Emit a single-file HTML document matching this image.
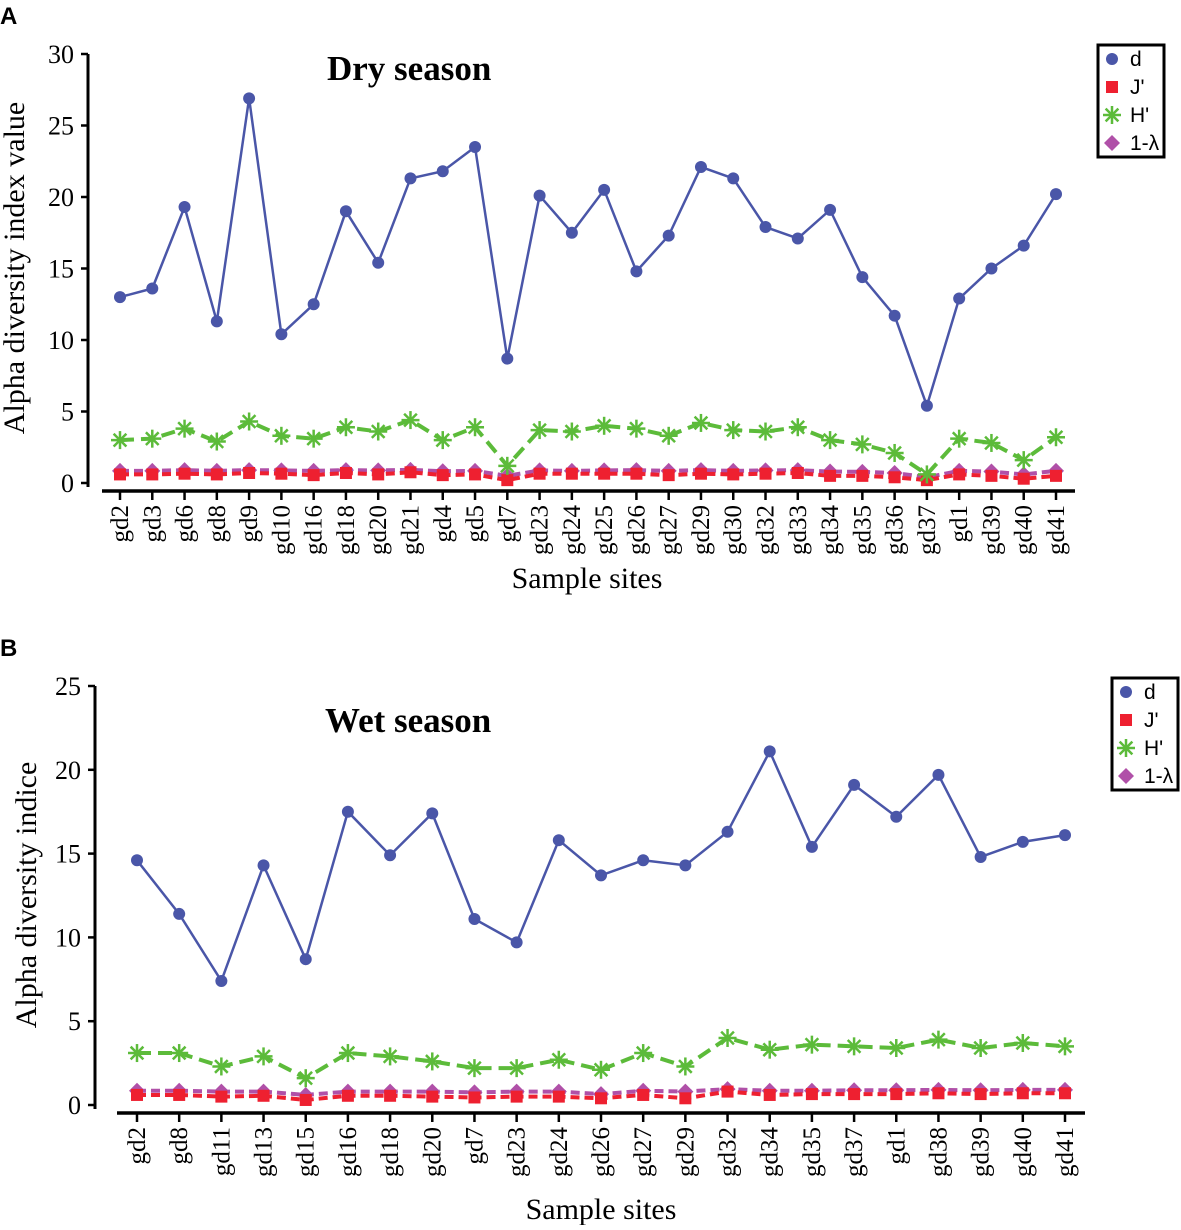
<!DOCTYPE html>
<html><head><meta charset="utf-8"><style>
body{margin:0;background:#fff}
svg text{font-family:"Liberation Serif",serif}
</style></head><body>
<svg id="c" width="1181" height="1225" xmlns="http://www.w3.org/2000/svg"></svg>
<script>
const catsA=["gd2","gd3","gd6","gd8","gd9","gd10","gd16","gd18","gd20","gd21","gd4","gd5","gd7","gd23","gd24","gd25","gd26","gd27","gd29","gd30","gd32","gd33","gd34","gd35","gd36","gd37","gd1","gd39","gd40","gd41"];
const dA=[13,13.6,19.3,11.3,26.9,10.4,12.5,19,15.4,21.3,21.8,23.5,8.7,20.1,17.5,20.5,14.8,17.3,22.1,21.3,17.9,17.1,19.1,14.4,11.7,5.4,12.9,15,16.6,20.2];
const hA=[3.0,3.1,3.8,2.9,4.3,3.3,3.1,3.9,3.6,4.4,3.0,3.9,1.2,3.7,3.6,4.0,3.8,3.3,4.2,3.7,3.6,3.9,3.0,2.7,2.1,0.6,3.1,2.8,1.6,3.2];
const jA=[0.6,0.6,0.65,0.6,0.7,0.65,0.55,0.7,0.6,0.75,0.55,0.6,0.2,0.65,0.65,0.65,0.65,0.55,0.65,0.6,0.65,0.7,0.5,0.5,0.4,0.2,0.6,0.5,0.3,0.5];
const lA=[0.85,0.85,0.9,0.85,0.9,0.88,0.85,0.9,0.88,0.92,0.82,0.85,0.5,0.88,0.85,0.88,0.9,0.85,0.9,0.85,0.88,0.9,0.8,0.78,0.7,0.4,0.85,0.8,0.6,0.85];
const ticksA=[0,5,10,15,20,25,30];
const catsB=["gd2","gd8","gd11","gd13","gd15","gd16","gd18","gd20","gd7","gd23","gd24","gd26","gd27","gd29","gd32","gd34","gd35","gd37","gd1","gd38","gd39","gd40","gd41"];
const dB=[14.6,11.4,7.4,14.3,8.7,17.5,14.9,17.4,11.1,9.7,15.8,13.7,14.6,14.3,16.3,21.1,15.4,19.1,17.2,19.7,14.8,15.7,16.1];
const hB=[3.1,3.1,2.3,2.9,1.6,3.1,2.9,2.6,2.2,2.2,2.7,2.1,3.1,2.3,4.0,3.3,3.6,3.5,3.4,3.9,3.4,3.7,3.5];
const jB=[0.6,0.6,0.5,0.55,0.3,0.55,0.55,0.5,0.45,0.5,0.5,0.4,0.6,0.4,0.8,0.6,0.65,0.65,0.65,0.7,0.65,0.7,0.7];
const lB=[0.85,0.85,0.8,0.8,0.6,0.8,0.8,0.8,0.75,0.8,0.8,0.65,0.85,0.8,0.95,0.85,0.85,0.88,0.88,0.9,0.88,0.9,0.9];
const ticksB=[0,5,10,15,20,25];
const NS="http://www.w3.org/2000/svg";
const svg=document.getElementById('c');
function el(t,a,p){const e=document.createElementNS(NS,t);for(const k in a)e.setAttribute(k,a[k]);(p||svg).appendChild(e);return e;}
function marker(type,x,y,g){
 if(type==='d'){el('circle',{cx:x,cy:y,r:6,fill:'#4a56a8'},g);}
 else if(type==='j'){el('rect',{x:x-6,y:y-6,width:12,height:12,fill:'#ee2030'},g);}
 else if(type==='h'){for(let a=0;a<180;a+=45){const r=a*Math.PI/180;el('line',{x1:x-9*Math.cos(r),y1:y-9*Math.sin(r),x2:x+9*Math.cos(r),y2:y+9*Math.sin(r),stroke:'#5cbb3a','stroke-width':2.5},g);}}
 else {el('polygon',{points:`${x},${y-8} ${x+8},${y} ${x},${y+8} ${x-8},${y}`,fill:'#b050a8'},g);}
}
function chart(o){
 const g=el('g',{});
 
 
 const ys=v=>o.y0-(o.y0-o.yTop)*v/o.ymax;
 const xs=i=>o.x0+i*(o.x1-o.x0)/(o.cats.length-1);
 el('line',{x1:o.ax,y1:o.yTop,x2:o.ax,y2:o.y0+4,stroke:'#000','stroke-width':3},g);
 el('line',{x1:o.axL,y1:o.base,x2:o.axR,y2:o.base,stroke:'#000','stroke-width':3.5},g);
 o.ticks.forEach(t=>{el('line',{x1:o.ax-7,y1:ys(t),x2:o.ax,y2:ys(t),stroke:'#000','stroke-width':2.5},g);
  const tx=el('text',{x:o.ax-14,y:ys(t)+9,'text-anchor':'end','font-size':26},g);tx.textContent=t;});
 o.cats.forEach((c,i)=>{el('line',{x1:xs(i),y1:o.base,x2:xs(i),y2:o.base+9,stroke:'#000','stroke-width':2.5},g);
  const tx=el('text',{transform:`translate(${xs(i)+8},${o.base+14}) rotate(-90)`,'text-anchor':'end','font-size':25},g);tx.textContent=c;});
 const ser=[[o.l,'l','#b050a8','9,5'],[o.j,'j','#ee2030','9,5'],[o.h,'h','#5cbb3a','14,7'],[o.d,'d','#4a56a8',null]];
 ser.forEach(s=>{const pts=s[0].map((v,i)=>xs(i)+','+ys(v)).join(' ');
  const a={points:pts,fill:'none',stroke:s[2],'stroke-width':s[1]==='d'?2.5:4};if(s[3])a['stroke-dasharray']=s[3];
  const pl=el('polyline',a,g);
  s[0].forEach((v,i)=>marker(s[1],xs(i),ys(v),g));});
 const t=el('text',{x:o.tx,y:o.ty,'font-size':35,'font-weight':'bold'},g);t.textContent=o.title;
 const yl=el('text',{transform:`translate(${o.ylx},${o.yly}) rotate(-90)`,'text-anchor':'middle','font-size':30},g);yl.textContent=o.ylabel;
 const xl=el('text',{x:o.xlx,y:o.xly,'text-anchor':'middle','font-size':30},g);xl.textContent='Sample sites';
 const lg=el('g',{},g);
 el('rect',{x:o.lgx,y:o.lgy,width:66,height:112,fill:'#fff',stroke:'#000','stroke-width':3},lg);
 [['d','d'],['j',"J'"],['h',"H'"],['l','1-λ']].forEach((e,k)=>{const yy=o.lgy+14+k*28;marker(e[0],o.lgx+14,yy,lg);
  const tt=el('text',{x:o.lgx+32,y:yy+7,'font-size':21,style:'font-family:"Liberation Sans",sans-serif'},lg);tt.textContent=e[1];});
}
chart({name:'chart-dry',cats:catsA,d:dA,h:hA,j:jA,l:lA,ticks:ticksA,ymax:30,y0:483,yTop:54,x0:120,x1:1056,ax:88,axL:102,axR:1075,base:491,
 title:'Dry season',tx:327,ty:80,ylabel:'Alpha diversity index value',ylx:24,yly:268,xlx:587,xly:588,lgx:1098,lgy:45});
chart({name:'chart-wet',cats:catsB,d:dB,h:hB,j:jB,l:lB,ticks:ticksB,ymax:25,y0:1105,yTop:686,x0:137,x1:1065,ax:95,axL:117,axR:1085,base:1113,
 title:'Wet season',tx:325,ty:732,ylabel:'Alpha diversity indice',ylx:36,yly:895,xlx:601,xly:1219,lgx:1112,lgy:678});
const A=el('text',{x:0,y:24,'font-size':24,'font-weight':'bold',style:'font-family:"Liberation Sans",sans-serif'});A.textContent='A';

const B=el('text',{x:0,y:656,'font-size':24,'font-weight':'bold',style:'font-family:"Liberation Sans",sans-serif'});B.textContent='B';

</script>
</body></html>
